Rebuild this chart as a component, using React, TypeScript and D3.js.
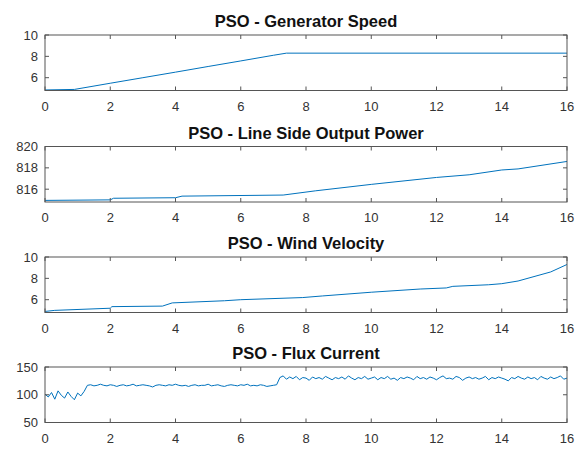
import React from "react";
import * as d3 from "d3";

const titles = [
  "PSO - Generator Speed",
  "PSO - Line Side Output Power",
  "PSO - Wind Velocity",
  "PSO - Flux Current",
];

const xTicks = [0, 2, 4, 6, 8, 10, 12, 14, 16];

const genTime = [0, 0.9, 2, 3, 4, 5, 6, 7, 7.4, 16];
const genSpeed = [4.85, 4.9, 5.48, 6.0, 6.52, 7.05, 7.57, 8.1, 8.3, 8.3];

const powerTime = [0, 2, 2.1, 4, 4.2, 7.3, 8.3, 10, 12, 13, 14, 14.5, 16];
const power = [814.95, 815.0, 815.15, 815.2, 815.35, 815.45, 815.85, 816.45, 817.1, 817.35, 817.8, 817.9, 818.6];

const windTime = [0, 0.3, 2.0, 2.05, 3.6, 3.9, 5.5, 6.0, 7.9, 8.5, 10, 11.5, 12.3, 12.5, 13.6, 14.0, 14.5, 15.5, 16];
const wind = [4.9, 5.0, 5.2, 5.35, 5.4, 5.7, 5.9, 6.0, 6.2, 6.35, 6.7, 7.0, 7.1, 7.25, 7.4, 7.5, 7.75, 8.6, 9.3];

// flux current sampled every 0.1 s
const fluxStep = 0.1;
const flux = [
  101, 96, 104, 92, 107, 99, 94, 105, 97, 91,
  103, 98, 106, 117, 118, 116, 117, 119, 117, 116,
  118, 117, 115, 117, 118, 116, 117, 119, 116, 117,
  118, 117, 116, 114, 117, 118, 117, 116, 118, 117,
  119, 117, 116, 117, 115, 117, 118, 116, 117, 117,
  119, 116, 117, 118, 116, 115, 117, 118, 117, 116,
  118, 117, 119, 116, 117, 116, 118, 117, 115, 116,
  117, 118, 131, 134, 128, 132, 129, 133, 127, 131,
  130, 126, 132, 129, 131, 128, 133, 130, 127, 131,
  129, 132, 128, 134, 130, 127, 131, 129, 133, 128,
  130, 132, 127, 131, 129, 133, 128, 130, 126, 131,
  129, 132, 130, 127, 133, 129, 131, 128, 132, 130,
  127, 131, 134, 129, 130, 128, 133, 131, 126, 130,
  132, 129, 131, 128, 130, 133, 127, 131, 129, 132,
  130, 128, 125, 131, 129, 133, 130, 128, 132, 129,
  131, 127, 133, 130, 128, 132, 129, 131, 134, 128,
  130,
];
const fluxTime = flux.map((_, i) => i * fluxStep);

const panels = [
  { title: titles[0], t: genTime, v: genSpeed, domain: [4.8, 10], ticks: [6, 8, 10] },
  { title: titles[1], t: powerTime, v: power, domain: [814.8, 820], ticks: [816, 818, 820] },
  { title: titles[2], t: windTime, v: wind, domain: [4.8, 10], ticks: [6, 8, 10] },
  { title: titles[3], t: fluxTime, v: flux, domain: [50, 150], ticks: [50, 100, 150] },
];

const W = 577;
const H = 450;
const left = 45;
const right = 567;
const tops = [35, 146.5, 257, 367];
const plotH = 55.5;
const tickLen = 4;
const axisColor = "#555";
const textColor = "#333";
const lineColor = "#0072BD";
const font = "'Liberation Sans', Arial, Helvetica, sans-serif";

const Panel = ({ p, top }) => {
  const x = d3.scaleLinear().domain([0, 16]).range([left, right]);
  const y = d3.scaleLinear().domain(p.domain).range([top + plotH, top]);
  const line = d3
    .line()
    .x((d) => x(d[0]))
    .y((d) => y(d[1]));
  const pts = p.t.map((t, i) => [t, p.v[i]]);
  const bottom = top + plotH;
  return (
    <g>
      <text
        x={(left + right) / 2}
        y={top - 8}
        textAnchor="middle"
        fontFamily={font}
        fontWeight="bold"
        fontSize="16.5"
        fill="#111"
      >
        {p.title}
      </text>
      <path d={line(pts)} fill="none" stroke={lineColor} strokeWidth={1} />
      <rect x={left} y={top} width={right - left} height={plotH} fill="none" stroke={axisColor} strokeWidth={1} />
      {xTicks.map((t) => (
        <g key={"x" + t}>
          <line x1={x(t)} x2={x(t)} y1={bottom} y2={bottom - tickLen} stroke={axisColor} />
          <line x1={x(t)} x2={x(t)} y1={top} y2={top + tickLen} stroke={axisColor} />
          <text x={x(t)} y={bottom + 20} textAnchor="middle" fontFamily={font} fontSize="13" fill={textColor}>
            {t}
          </text>
        </g>
      ))}
      {p.ticks.map((t) => (
        <g key={"y" + t}>
          <line x1={left} x2={left + tickLen} y1={y(t)} y2={y(t)} stroke={axisColor} />
          <line x1={right} x2={right - tickLen} y1={y(t)} y2={y(t)} stroke={axisColor} />
          <text x={38} y={y(t)} dy="0.35em" textAnchor="end" fontFamily={font} fontSize="13" fill={textColor}>
            {t}
          </text>
        </g>
      ))}
    </g>
  );
};

export default function App() {
  return (
    <svg
      width={W}
      height={H}
      style={{ position: "absolute", left: 0, top: 0, background: "#fff" }}
    >
      <rect width={W} height={H} fill="#fff" />
      {panels.map((p, i) => (
        <Panel key={i} p={p} top={tops[i]} />
      ))}
    </svg>
  );
}
